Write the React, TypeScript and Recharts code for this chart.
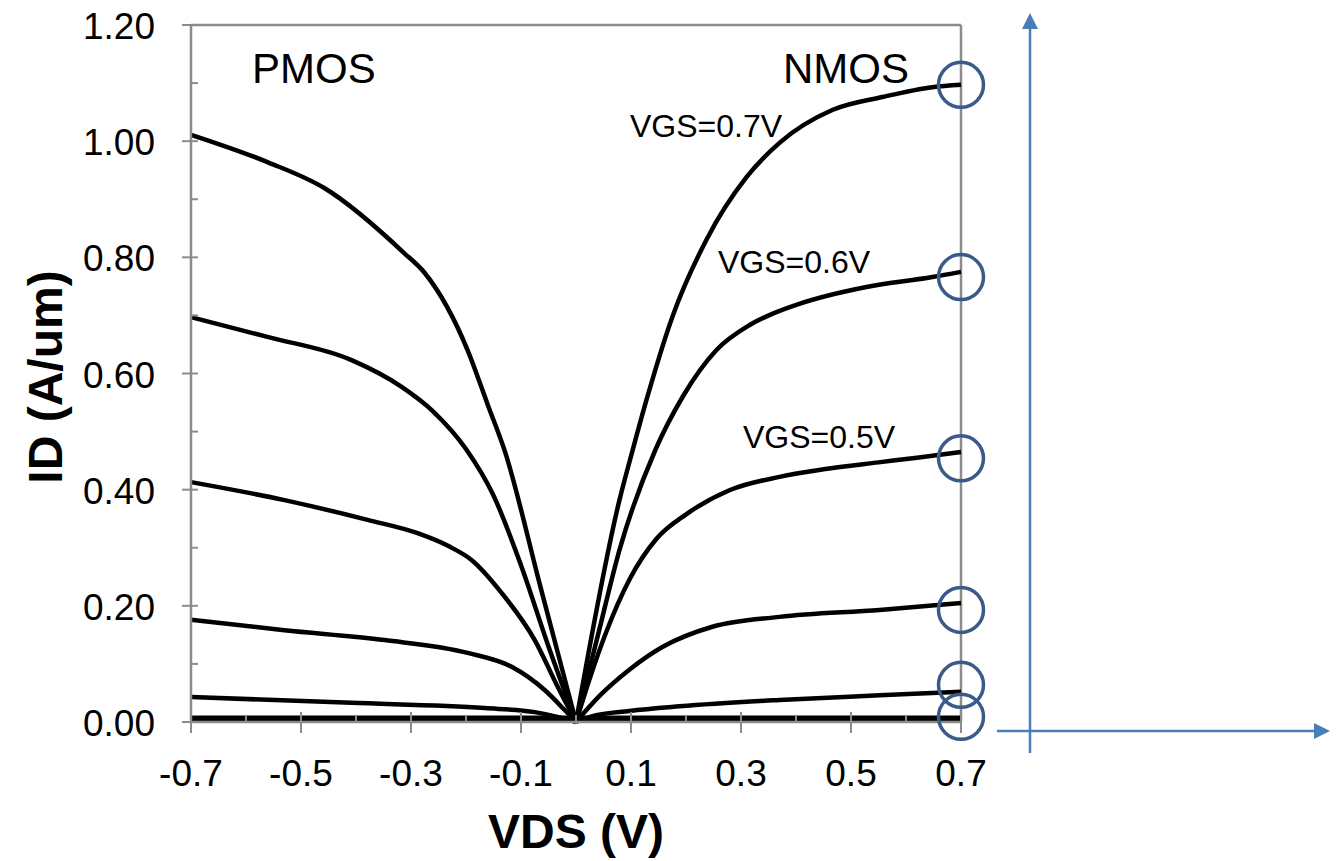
import React from "react";
import { LineChart, Line, XAxis, YAxis, ReferenceLine, ReferenceDot } from "recharts";

// VDS (V), |ID| (A/um) pairs
const pmosVgs07: [number, number][] = [[-0.7, 1.011], [-0.561, 0.964], [-0.457, 0.919], [-0.312, 0.807], [-0.275, 0.773], [-0.197, 0.64], [-0.16, 0.545], [-0.13, 0.468], [-0.065, 0.234], [0, 0]];
const pmosVgs06: [number, number][] = [[-0.7, 0.697], [-0.561, 0.663], [-0.408, 0.623], [-0.317, 0.577], [-0.26, 0.535], [-0.2, 0.47], [-0.15, 0.39], [-0.1, 0.27], [-0.05, 0.13], [0, 0]];
const pmosVgs05: [number, number][] = [[-0.7, 0.413], [-0.53, 0.382], [-0.379, 0.348], [-0.288, 0.325], [-0.23, 0.302], [-0.19, 0.279], [-0.135, 0.222], [-0.075, 0.141], [-0.034, 0.062], [0, 0]];
const pmosVgs04: [number, number][] = [[-0.7, 0.176], [-0.53, 0.158], [-0.348, 0.141], [-0.197, 0.119], [-0.117, 0.095], [-0.057, 0.055], [-0.021, 0.021], [0, 0]];
const pmosVgs03: [number, number][] = [[-0.7, 0.043], [-0.408, 0.033], [-0.166, 0.024], [-0.075, 0.017], [-0.03, 0.008], [0, 0]];
const pmosVgs02: [number, number][] = [[-0.7, 0.005], [0, 0.005]];

const nmosVgs07: [number, number][] = [[0, 0], [0.079, 0.382], [0.103, 0.468], [0.128, 0.554], [0.175, 0.697], [0.237, 0.83], [0.31, 0.938], [0.37, 0.997], [0.467, 1.054], [0.557, 1.076], [0.648, 1.093], [0.7, 1.097]];
const nmosVgs06: [number, number][] = [[0, 0], [0.04, 0.15], [0.079, 0.296], [0.145, 0.47], [0.194, 0.56], [0.255, 0.64], [0.315, 0.683], [0.36, 0.704], [0.406, 0.72], [0.528, 0.749], [0.648, 0.766], [0.7, 0.775]];
const nmosVgs05: [number, number][] = [[0, 0], [0.025, 0.075], [0.055, 0.155], [0.097, 0.245], [0.146, 0.315], [0.201, 0.358], [0.279, 0.399], [0.37, 0.422], [0.45, 0.435], [0.55, 0.447], [0.62, 0.455], [0.7, 0.465]];
const nmosVgs04: [number, number][] = [[0, 0], [0.045, 0.047], [0.097, 0.09], [0.157, 0.129], [0.248, 0.164], [0.37, 0.181], [0.552, 0.193], [0.7, 0.205]];
const nmosVgs03: [number, number][] = [[0, 0], [0.03, 0.01], [0.097, 0.019], [0.188, 0.027], [0.37, 0.038], [0.552, 0.046], [0.7, 0.052]];
const nmosVgs02: [number, number][] = [[0, 0.005], [0.7, 0.005]];

const circledIds = [1.097, 0.766, 0.454, 0.193, 0.064, 0.009];

const xTicks = [-0.7, -0.6, -0.5, -0.4, -0.3, -0.2, -0.1, 0, 0.1, 0.2, 0.3, 0.4, 0.5, 0.6, 0.7];
const xMajorLabels = ["-0.7", "-0.5", "-0.3", "-0.1", "0.1", "0.3", "0.5", "0.7"];
const yTicks = [0, 0.1, 0.2, 0.3, 0.4, 0.5, 0.6, 0.7, 0.8, 0.9, 1.0, 1.1, 1.2];
const yMajorLabels = ["0.00", "0.20", "0.40", "0.60", "0.80", "1.00", "1.20"];

const toPts = (arr: [number, number][]) => arr.map(([v, i]) => ({ v, i }));

const pmosSeries = [pmosVgs07, pmosVgs06, pmosVgs05, pmosVgs04, pmosVgs03, pmosVgs02];
const nmosSeries = [nmosVgs07, nmosVgs06, nmosVgs05, nmosVgs04, nmosVgs03, nmosVgs02];

const FONT = "'Liberation Sans', Arial, sans-serif";
const AXIS_GRAY = "#8c8c8c";
const BLUE = "#4a7ebb";
const CIRCLE = "#3a5b8a";

const XTick = (props: any) => {
  const { x, y, payload } = props;
  const label = Number(payload.value).toFixed(1);
  const major = xMajorLabels.includes(label);
  return (
    <g>
      <line x1={x} x2={x} y1={major ? y - 10 : y - 7} y2={major ? y + 11 : y} stroke={AXIS_GRAY} strokeWidth={2} />
      {major && (
        <text x={x} y={y + 64} textAnchor="middle" fontSize={37} fontFamily={FONT} fill="#000">
          {label}
        </text>
      )}
    </g>
  );
};

const YTick = (props: any) => {
  const { x, y, payload } = props;
  const label = Number(payload.value).toFixed(2);
  const major = yMajorLabels.includes(label);
  return (
    <g>
      <line x1={major ? x - 9 : x} x2={x + 7} y1={y} y2={y} stroke={AXIS_GRAY} strokeWidth={2} />
      {major && (
        <text x={x - 36} y={y + 14} textAnchor="end" fontSize={37} fontFamily={FONT} fill="#000">
          {label}
        </text>
      )}
    </g>
  );
};

export default function App() {
  return (
    <div style={{ position: "absolute", left: 0, top: 0, width: 1336, height: 861, background: "#fff" }}>
      <LineChart width={1336} height={861} margin={{ top: 25, right: 375, bottom: 109, left: 131 }}>
        <XAxis
          dataKey="v"
          type="number"
          domain={[-0.7, 0.7]}
          ticks={xTicks}
          interval={0}
          height={30}
          tickSize={0}
          tickMargin={0}
          axisLine={{ stroke: AXIS_GRAY, strokeWidth: 2.5 }}
          tickLine={false}
          tick={(p: any) => <XTick {...p} />}
        />
        <YAxis
          dataKey="i"
          type="number"
          domain={[0, 1.2]}
          ticks={yTicks}
          interval={0}
          width={60}
          tickSize={0}
          tickMargin={0}
          axisLine={{ stroke: AXIS_GRAY, strokeWidth: 2.5 }}
          tickLine={false}
          tick={(p: any) => <YTick {...p} />}
        />
        <ReferenceLine y={1.2} stroke={AXIS_GRAY} strokeWidth={2.5} />
        <ReferenceLine x={0.7} stroke={AXIS_GRAY} strokeWidth={2.5} />
        {pmosSeries.map((s, k) => (
          <Line
            key={"p" + k}
            data={toPts(s)}
            dataKey="i"
            type="monotone"
            stroke="#000"
            strokeWidth={k === 5 ? 7 : 4.5}
            dot={false}
            activeDot={false}
            isAnimationActive={false}
          />
        ))}
        {nmosSeries.map((s, k) => (
          <Line
            key={"n" + k}
            data={toPts(s)}
            dataKey="i"
            type="monotone"
            stroke="#000"
            strokeWidth={k === 5 ? 7 : 4.5}
            dot={false}
            activeDot={false}
            isAnimationActive={false}
          />
        ))}
        {circledIds.map((c, k) => (
          <ReferenceDot key={"c" + k} x={0.7} y={c} r={22.5} fill="none" stroke={CIRCLE} strokeWidth={3.5} ifOverflow="visible" />
        ))}
      </LineChart>
      <svg width={1336} height={861} style={{ position: "absolute", left: 0, top: 0, pointerEvents: "none" }}>
        <g fontFamily={FONT} fill="#000">
          <text x={252} y={83} fontSize={42}>PMOS</text>
          <text x={783} y={83} fontSize={42}>NMOS</text>
          <text x={630} y={137} fontSize={32}>VGS=0.7V</text>
          <text x={718} y={273} fontSize={32}>VGS=0.6V</text>
          <text x={743} y={448} fontSize={32}>VGS=0.5V</text>
          <text x={576} y={848} fontSize={48} fontWeight="bold" textAnchor="middle">VDS (V)</text>
          <text x={62} y={377} fontSize={48} fontWeight="bold" textAnchor="middle" transform="rotate(-90, 62, 377)">ID (A/um)</text>
        </g>
        <g stroke={BLUE} strokeWidth={2.5} fill={BLUE}>
          <line x1={1030} y1={753} x2={1030} y2={28} />
          <polygon points="1030,13 1022,29 1038,29" stroke="none" />
          <line x1={997} y1={731} x2={1315} y2={731} />
          <polygon points="1330,731 1314,723 1314,739" stroke="none" />
        </g>
      </svg>
    </div>
  );
}
